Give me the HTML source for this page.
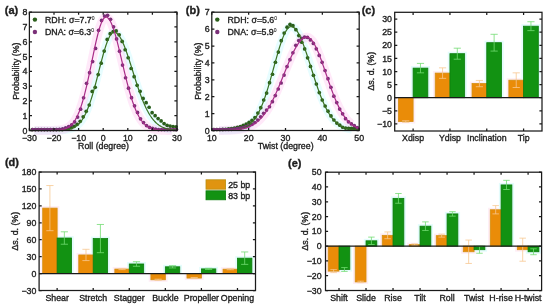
<!DOCTYPE html>
<html><head><meta charset="utf-8"><style>
html,body{margin:0;padding:0;background:#fff;}
svg{display:block;will-change:transform;font-family:"Liberation Sans",sans-serif;fill:#222;}
text{fill:#1e1e1e;stroke:#1e1e1e;stroke-width:0.35px;}
</style></head><body>
<svg width="550" height="308" viewBox="0 0 550 308">
<text x="4.80" y="13.60" text-anchor="start" font-size="11" font-weight="bold" >(a)</text>
<path d="M34.32 130.50 L35.01 130.50 L35.70 130.50 L36.40 130.50 L37.09 130.50 L37.78 130.50 L38.47 130.50 L39.17 130.50 L39.86 130.50 L40.55 130.50 L41.24 130.50 L41.93 130.50 L42.63 130.50 L43.32 130.50 L44.01 130.50 L44.70 130.50 L45.40 130.50 L46.09 130.50 L46.78 130.49 L47.47 130.49 L48.17 130.49 L48.86 130.49 L49.55 130.49 L50.24 130.49 L50.93 130.48 L51.63 130.48 L52.32 130.48 L53.01 130.47 L53.70 130.46 L54.40 130.46 L55.09 130.45 L55.78 130.44 L56.47 130.43 L57.16 130.41 L57.86 130.40 L58.55 130.38 L59.24 130.36 L59.93 130.33 L60.63 130.30 L61.32 130.27 L62.01 130.23 L62.70 130.19 L63.39 130.13 L64.09 130.07 L64.78 130.01 L65.47 129.93 L66.16 129.84 L66.86 129.73 L67.55 129.62 L68.24 129.49 L68.93 129.34 L69.63 129.17 L70.32 128.98 L71.01 128.77 L71.70 128.53 L72.39 128.26 L73.09 127.97 L73.78 127.64 L74.47 127.27 L75.16 126.87 L75.86 126.42 L76.55 125.92 L77.24 125.38 L77.93 124.79 L78.62 124.14 L79.32 123.42 L80.01 122.65 L80.70 121.81 L81.39 120.90 L82.09 119.92 L82.78 118.86 L83.47 117.72 L84.16 116.50 L84.86 115.20 L85.55 113.81 L86.24 112.33 L86.93 110.75 L87.62 109.09 L88.32 107.34 L89.01 105.50 L89.70 103.56 L90.39 101.54 L91.09 99.43 L91.78 97.23 L92.47 94.96 L93.16 92.61 L93.85 90.18 L94.55 87.69 L95.24 85.15 L95.93 82.55 L96.62 79.90 L97.32 77.23 L98.01 74.52 L98.70 71.81 L99.39 69.09 L100.08 66.38 L100.78 63.68 L101.47 61.02 L102.16 58.41 L102.85 55.85 L103.55 53.36 L104.24 50.96 L104.93 48.65 L105.62 46.45 L106.32 44.37 L107.01 42.43 L107.70 40.62 L108.39 38.97 L109.08 37.49 L109.78 36.18 L110.47 35.05 L111.16 34.11 L111.85 33.36 L112.55 32.81 L113.24 32.46 L113.93 32.32 L114.62 32.35 L115.31 32.53 L116.01 32.84 L116.70 33.28 L117.39 33.86 L118.08 34.56 L118.78 35.39 L119.47 36.35 L120.16 37.42 L120.85 38.61 L121.54 39.90 L122.24 41.31 L122.93 42.81 L123.62 44.41 L124.31 46.09 L125.01 47.86 L125.70 49.70 L126.39 51.60 L127.08 53.57 L127.78 55.60 L128.47 57.67 L129.16 59.78 L129.85 61.93 L130.54 64.10 L131.24 66.29 L131.93 68.50 L132.62 70.71 L133.31 72.92 L134.01 75.13 L134.70 77.33 L135.39 79.51 L136.08 81.66 L136.77 83.80 L137.47 85.90 L138.16 87.96 L138.85 89.98 L139.54 91.97 L140.24 93.90 L140.93 95.79 L141.62 97.62 L142.31 99.40 L143.01 101.13 L143.70 102.80 L144.39 104.40 L145.08 105.95 L145.77 107.44 L146.47 108.87 L147.16 110.24 L147.85 111.55 L148.54 112.80 L149.24 113.98 L149.93 115.12 L150.62 116.19 L151.31 117.20 L152.00 118.16 L152.70 119.07 L153.39 119.93 L154.08 120.73 L154.77 121.49 L155.47 122.20 L156.16 122.86 L156.85 123.48 L157.54 124.06 L158.23 124.60 L158.93 125.10 L159.62 125.57 L160.31 126.00 L161.00 126.40 L161.70 126.77 L162.39 127.11 L163.08 127.42 L163.77 127.71 L164.47 127.98 L165.16 128.22 L165.85 128.44 L166.54 128.65 L167.23 128.83 L167.93 129.00 L168.62 129.15 L169.31 129.29 L170.00 129.42 L170.70 129.54 L171.39 129.64 L172.08 129.73" fill="none" stroke="#a0f8ff" stroke-width="8" stroke-opacity="0.25" stroke-linejoin="round"/>
<path d="M34.32 130.50 L35.01 130.50 L35.70 130.50 L36.40 130.50 L37.09 130.50 L37.78 130.50 L38.47 130.50 L39.17 130.50 L39.86 130.50 L40.55 130.50 L41.24 130.50 L41.93 130.50 L42.63 130.50 L43.32 130.49 L44.01 130.49 L44.70 130.49 L45.40 130.49 L46.09 130.49 L46.78 130.48 L47.47 130.48 L48.17 130.47 L48.86 130.47 L49.55 130.46 L50.24 130.45 L50.93 130.44 L51.63 130.43 L52.32 130.42 L53.01 130.40 L53.70 130.38 L54.40 130.35 L55.09 130.33 L55.78 130.29 L56.47 130.25 L57.16 130.21 L57.86 130.16 L58.55 130.09 L59.24 130.02 L59.93 129.94 L60.63 129.84 L61.32 129.73 L62.01 129.60 L62.70 129.45 L63.39 129.29 L64.09 129.09 L64.78 128.88 L65.47 128.63 L66.16 128.35 L66.86 128.03 L67.55 127.68 L68.24 127.28 L68.93 126.84 L69.63 126.34 L70.32 125.79 L71.01 125.17 L71.70 124.49 L72.39 123.74 L73.09 122.92 L73.78 122.01 L74.47 121.02 L75.16 119.94 L75.86 118.76 L76.55 117.49 L77.24 116.10 L77.93 114.62 L78.62 113.02 L79.32 111.30 L80.01 109.47 L80.70 107.51 L81.39 105.44 L82.09 103.24 L82.78 100.93 L83.47 98.49 L84.16 95.93 L84.86 93.27 L85.55 90.49 L86.24 87.60 L86.93 84.62 L87.62 81.55 L88.32 78.41 L89.01 75.19 L89.70 71.91 L90.39 68.59 L91.09 65.24 L91.78 61.87 L92.47 58.50 L93.16 55.14 L93.85 51.82 L94.55 48.55 L95.24 45.35 L95.93 42.23 L96.62 39.22 L97.32 36.34 L98.01 33.60 L98.70 31.02 L99.39 28.61 L100.08 26.39 L100.78 24.39 L101.47 22.60 L102.16 21.05 L102.85 19.74 L103.55 18.69 L104.24 17.89 L104.93 17.36 L105.62 17.11 L106.32 17.11 L107.01 17.33 L107.70 17.76 L108.39 18.40 L109.08 19.23 L109.78 20.27 L110.47 21.49 L111.16 22.90 L111.85 24.49 L112.55 26.25 L113.24 28.16 L113.93 30.23 L114.62 32.44 L115.31 34.77 L116.01 37.22 L116.70 39.78 L117.39 42.43 L118.08 45.16 L118.78 47.96 L119.47 50.81 L120.16 53.70 L120.85 56.63 L121.54 59.58 L122.24 62.53 L122.93 65.49 L123.62 68.42 L124.31 71.34 L125.01 74.22 L125.70 77.06 L126.39 79.85 L127.08 82.58 L127.78 85.25 L128.47 87.85 L129.16 90.38 L129.85 92.82 L130.54 95.18 L131.24 97.46 L131.93 99.64 L132.62 101.73 L133.31 103.74 L134.01 105.64 L134.70 107.46 L135.39 109.18 L136.08 110.81 L136.77 112.34 L137.47 113.79 L138.16 115.16 L138.85 116.43 L139.54 117.63 L140.24 118.74 L140.93 119.78 L141.62 120.74 L142.31 121.64 L143.01 122.46 L143.70 123.23 L144.39 123.93 L145.08 124.58 L145.77 125.17 L146.47 125.71 L147.16 126.20 L147.85 126.65 L148.54 127.06 L149.24 127.44 L149.93 127.77 L150.62 128.08 L151.31 128.35 L152.00 128.60 L152.70 128.82 L153.39 129.02 L154.08 129.20 L154.77 129.35 L155.47 129.49 L156.16 129.62 L156.85 129.73 L157.54 129.83 L158.23 129.92 L158.93 129.99 L159.62 130.06 L160.31 130.12 L161.00 130.17 L161.70 130.22 L162.39 130.26 L163.08 130.29 L163.77 130.32 L164.47 130.35 L165.16 130.37 L165.85 130.39 L166.54 130.40 L167.23 130.42 L167.93 130.43 L168.62 130.44 L169.31 130.45 L170.00 130.46 L170.70 130.46 L171.39 130.47 L172.08 130.48" fill="none" stroke="#ffb0e8" stroke-width="9" stroke-opacity="0.28" stroke-linejoin="round"/>
<circle cx="32.28" cy="129.61" r="1.85" fill="#2a5e1a"/>
<circle cx="35.27" cy="129.61" r="1.85" fill="#2a5e1a"/>
<circle cx="38.27" cy="129.61" r="1.85" fill="#2a5e1a"/>
<circle cx="41.27" cy="129.61" r="1.85" fill="#2a5e1a"/>
<circle cx="44.26" cy="129.61" r="1.85" fill="#2a5e1a"/>
<circle cx="47.26" cy="129.61" r="1.85" fill="#2a5e1a"/>
<circle cx="50.26" cy="129.61" r="1.85" fill="#2a5e1a"/>
<circle cx="53.25" cy="129.61" r="1.85" fill="#2a5e1a"/>
<circle cx="56.25" cy="129.61" r="1.85" fill="#2a5e1a"/>
<circle cx="59.24" cy="129.61" r="1.85" fill="#2a5e1a"/>
<circle cx="62.24" cy="129.58" r="1.85" fill="#2a5e1a"/>
<circle cx="65.24" cy="129.19" r="1.85" fill="#2a5e1a"/>
<circle cx="68.23" cy="128.60" r="1.85" fill="#2a5e1a"/>
<circle cx="71.23" cy="127.70" r="1.85" fill="#2a5e1a"/>
<circle cx="74.23" cy="126.33" r="1.85" fill="#2a5e1a"/>
<circle cx="77.22" cy="124.31" r="1.85" fill="#2a5e1a"/>
<circle cx="80.22" cy="121.33" r="1.85" fill="#2a5e1a"/>
<circle cx="83.21" cy="116.86" r="1.85" fill="#2a5e1a"/>
<circle cx="86.21" cy="111.30" r="1.85" fill="#2a5e1a"/>
<circle cx="89.21" cy="105.00" r="1.85" fill="#2a5e1a"/>
<circle cx="92.20" cy="91.39" r="1.85" fill="#2a5e1a"/>
<circle cx="95.20" cy="87.28" r="1.85" fill="#2a5e1a"/>
<circle cx="98.20" cy="74.61" r="1.85" fill="#2a5e1a"/>
<circle cx="101.19" cy="63.15" r="1.85" fill="#2a5e1a"/>
<circle cx="104.19" cy="51.04" r="1.85" fill="#2a5e1a"/>
<circle cx="107.19" cy="39.41" r="1.85" fill="#2a5e1a"/>
<circle cx="110.18" cy="33.70" r="1.85" fill="#2a5e1a"/>
<circle cx="113.18" cy="31.60" r="1.85" fill="#2a5e1a"/>
<circle cx="116.17" cy="30.91" r="1.85" fill="#2a5e1a"/>
<circle cx="119.17" cy="34.74" r="1.85" fill="#2a5e1a"/>
<circle cx="122.17" cy="41.38" r="1.85" fill="#2a5e1a"/>
<circle cx="125.16" cy="49.73" r="1.85" fill="#2a5e1a"/>
<circle cx="128.16" cy="57.77" r="1.85" fill="#2a5e1a"/>
<circle cx="131.16" cy="68.51" r="1.85" fill="#2a5e1a"/>
<circle cx="134.15" cy="76.64" r="1.85" fill="#2a5e1a"/>
<circle cx="137.15" cy="85.35" r="1.85" fill="#2a5e1a"/>
<circle cx="140.14" cy="91.34" r="1.85" fill="#2a5e1a"/>
<circle cx="143.14" cy="98.42" r="1.85" fill="#2a5e1a"/>
<circle cx="146.14" cy="102.66" r="1.85" fill="#2a5e1a"/>
<circle cx="149.13" cy="107.25" r="1.85" fill="#2a5e1a"/>
<circle cx="152.13" cy="112.69" r="1.85" fill="#2a5e1a"/>
<circle cx="155.13" cy="115.70" r="1.85" fill="#2a5e1a"/>
<circle cx="158.12" cy="118.56" r="1.85" fill="#2a5e1a"/>
<circle cx="161.12" cy="120.89" r="1.85" fill="#2a5e1a"/>
<circle cx="164.11" cy="123.54" r="1.85" fill="#2a5e1a"/>
<circle cx="167.11" cy="125.29" r="1.85" fill="#2a5e1a"/>
<circle cx="170.11" cy="126.05" r="1.85" fill="#2a5e1a"/>
<circle cx="173.10" cy="126.48" r="1.85" fill="#2a5e1a"/>
<circle cx="176.10" cy="126.76" r="1.85" fill="#2a5e1a"/>
<circle cx="32.66" cy="129.61" r="1.85" fill="#7a3078"/>
<circle cx="35.66" cy="129.61" r="1.85" fill="#7a3078"/>
<circle cx="38.65" cy="129.61" r="1.85" fill="#7a3078"/>
<circle cx="41.65" cy="129.61" r="1.85" fill="#7a3078"/>
<circle cx="44.65" cy="129.61" r="1.85" fill="#7a3078"/>
<circle cx="47.64" cy="129.61" r="1.85" fill="#7a3078"/>
<circle cx="50.64" cy="129.61" r="1.85" fill="#7a3078"/>
<circle cx="53.64" cy="129.61" r="1.85" fill="#7a3078"/>
<circle cx="56.63" cy="129.61" r="1.85" fill="#7a3078"/>
<circle cx="59.63" cy="129.26" r="1.85" fill="#7a3078"/>
<circle cx="62.62" cy="128.73" r="1.85" fill="#7a3078"/>
<circle cx="65.62" cy="127.91" r="1.85" fill="#7a3078"/>
<circle cx="68.62" cy="126.66" r="1.85" fill="#7a3078"/>
<circle cx="71.61" cy="124.77" r="1.85" fill="#7a3078"/>
<circle cx="74.61" cy="121.92" r="1.85" fill="#7a3078"/>
<circle cx="77.61" cy="117.05" r="1.85" fill="#7a3078"/>
<circle cx="80.60" cy="109.19" r="1.85" fill="#7a3078"/>
<circle cx="83.60" cy="97.76" r="1.85" fill="#7a3078"/>
<circle cx="86.59" cy="83.32" r="1.85" fill="#7a3078"/>
<circle cx="89.59" cy="72.70" r="1.85" fill="#7a3078"/>
<circle cx="92.59" cy="61.57" r="1.85" fill="#7a3078"/>
<circle cx="95.58" cy="48.41" r="1.85" fill="#7a3078"/>
<circle cx="98.58" cy="30.31" r="1.85" fill="#7a3078"/>
<circle cx="101.58" cy="20.46" r="1.85" fill="#7a3078"/>
<circle cx="104.57" cy="16.01" r="1.85" fill="#7a3078"/>
<circle cx="107.57" cy="15.31" r="1.85" fill="#7a3078"/>
<circle cx="110.57" cy="19.23" r="1.85" fill="#7a3078"/>
<circle cx="113.56" cy="26.86" r="1.85" fill="#7a3078"/>
<circle cx="116.56" cy="38.95" r="1.85" fill="#7a3078"/>
<circle cx="119.55" cy="51.13" r="1.85" fill="#7a3078"/>
<circle cx="122.55" cy="65.08" r="1.85" fill="#7a3078"/>
<circle cx="125.55" cy="77.77" r="1.85" fill="#7a3078"/>
<circle cx="128.54" cy="88.14" r="1.85" fill="#7a3078"/>
<circle cx="131.54" cy="97.72" r="1.85" fill="#7a3078"/>
<circle cx="134.54" cy="105.83" r="1.85" fill="#7a3078"/>
<circle cx="137.53" cy="112.41" r="1.85" fill="#7a3078"/>
<circle cx="140.53" cy="118.79" r="1.85" fill="#7a3078"/>
<circle cx="143.52" cy="122.61" r="1.85" fill="#7a3078"/>
<circle cx="146.52" cy="125.59" r="1.85" fill="#7a3078"/>
<circle cx="149.52" cy="127.34" r="1.85" fill="#7a3078"/>
<circle cx="152.51" cy="128.44" r="1.85" fill="#7a3078"/>
<circle cx="155.51" cy="129.14" r="1.85" fill="#7a3078"/>
<circle cx="158.51" cy="129.58" r="1.85" fill="#7a3078"/>
<circle cx="161.50" cy="129.61" r="1.85" fill="#7a3078"/>
<circle cx="164.50" cy="129.61" r="1.85" fill="#7a3078"/>
<circle cx="167.49" cy="129.61" r="1.85" fill="#7a3078"/>
<circle cx="170.49" cy="129.61" r="1.85" fill="#7a3078"/>
<circle cx="173.49" cy="129.61" r="1.85" fill="#7a3078"/>
<circle cx="176.48" cy="129.61" r="1.85" fill="#7a3078"/>
<path d="M29.40 130.50 L29.89 130.50 L30.39 130.50 L30.88 130.50 L31.37 130.50 L31.87 130.50 L32.36 130.50 L32.86 130.50 L33.35 130.50 L33.84 130.50 L34.34 130.50 L34.83 130.50 L35.32 130.50 L35.82 130.50 L36.31 130.50 L36.80 130.50 L37.30 130.50 L37.79 130.50 L38.29 130.50 L38.78 130.50 L39.27 130.50 L39.77 130.50 L40.26 130.50 L40.75 130.50 L41.25 130.50 L41.74 130.50 L42.23 130.50 L42.73 130.50 L43.22 130.50 L43.72 130.50 L44.21 130.50 L44.70 130.50 L45.20 130.50 L45.69 130.50 L46.18 130.50 L46.68 130.50 L47.17 130.49 L47.66 130.49 L48.16 130.49 L48.65 130.49 L49.15 130.49 L49.64 130.49 L50.13 130.49 L50.63 130.48 L51.12 130.48 L51.61 130.48 L52.11 130.48 L52.60 130.47 L53.09 130.47 L53.59 130.47 L54.08 130.46 L54.58 130.46 L55.07 130.45 L55.56 130.44 L56.06 130.44 L56.55 130.43 L57.04 130.42 L57.54 130.41 L58.03 130.39 L58.53 130.38 L59.02 130.37 L59.51 130.35 L60.01 130.33 L60.50 130.31 L60.99 130.29 L61.49 130.26 L61.98 130.23 L62.47 130.20 L62.97 130.17 L63.46 130.13 L63.96 130.09 L64.45 130.04 L64.94 129.99 L65.44 129.93 L65.93 129.87 L66.42 129.80 L66.92 129.73 L67.41 129.64 L67.90 129.55 L68.40 129.45 L68.89 129.35 L69.39 129.23 L69.88 129.10 L70.37 128.96 L70.87 128.81 L71.36 128.65 L71.85 128.47 L72.35 128.28 L72.84 128.08 L73.33 127.85 L73.83 127.61 L74.32 127.35 L74.82 127.07 L75.31 126.78 L75.80 126.45 L76.30 126.11 L76.79 125.74 L77.28 125.35 L77.78 124.92 L78.27 124.48 L78.76 124.00 L79.26 123.49 L79.75 122.95 L80.25 122.37 L80.74 121.76 L81.23 121.12 L81.73 120.44 L82.22 119.72 L82.71 118.96 L83.21 118.16 L83.70 117.33 L84.19 116.44 L84.69 115.52 L85.18 114.55 L85.68 113.54 L86.17 112.48 L86.66 111.38 L87.16 110.23 L87.65 109.03 L88.14 107.79 L88.64 106.50 L89.13 105.16 L89.62 103.78 L90.12 102.35 L90.61 100.88 L91.11 99.37 L91.60 97.81 L92.09 96.21 L92.59 94.57 L93.08 92.89 L93.57 91.17 L94.07 89.42 L94.56 87.64 L95.05 85.83 L95.55 83.99 L96.04 82.13 L96.54 80.24 L97.03 78.34 L97.52 76.42 L98.02 74.49 L98.51 72.55 L99.00 70.61 L99.50 68.67 L99.99 66.74 L100.48 64.82 L100.98 62.90 L101.47 61.01 L101.97 59.14 L102.46 57.30 L102.95 55.49 L103.45 53.71 L103.94 51.98 L104.43 50.29 L104.93 48.66 L105.42 47.08 L105.92 45.56 L106.41 44.10 L106.90 42.71 L107.40 41.40 L107.89 40.15 L108.38 38.99 L108.88 37.92 L109.37 36.93 L109.86 36.03 L110.36 35.22 L110.85 34.51 L111.35 33.89 L111.84 33.37 L112.33 32.96 L112.83 32.64 L113.32 32.43 L113.81 32.33 L114.31 32.32 L114.80 32.39 L115.29 32.52 L115.79 32.73 L116.28 33.00 L116.78 33.34 L117.27 33.75 L117.76 34.22 L118.26 34.76 L118.75 35.36 L119.24 36.02 L119.74 36.75 L120.23 37.53 L120.72 38.38 L121.22 39.28 L121.71 40.23 L122.21 41.24 L122.70 42.30 L123.19 43.41 L123.69 44.56 L124.18 45.76 L124.67 47.00 L125.17 48.28 L125.66 49.59 L126.15 50.94 L126.65 52.33 L127.14 53.74 L127.64 55.18 L128.13 56.65 L128.62 58.14 L129.12 59.65 L129.61 61.17 L130.10 62.71 L130.60 64.26 L131.09 65.83 L131.58 67.40 L132.08 68.97 L132.57 70.55 L133.07 72.13 L133.56 73.71 L134.05 75.28 L134.55 76.85 L135.04 78.41 L135.53 79.96 L136.03 81.49 L136.52 83.02 L137.01 84.53 L137.51 86.02 L138.00 87.49 L138.50 88.95 L138.99 90.38 L139.48 91.79 L139.98 93.18 L140.47 94.55 L140.96 95.88 L141.46 97.20 L141.95 98.48 L142.44 99.74 L142.94 100.97 L143.43 102.16 L143.93 103.33 L144.42 104.47 L144.91 105.58 L145.41 106.66 L145.90 107.71 L146.39 108.73 L146.89 109.71 L147.38 110.67 L147.87 111.59 L148.37 112.49 L148.86 113.35 L149.36 114.19 L149.85 114.99 L150.34 115.77 L150.84 116.51 L151.33 117.23 L151.82 117.92 L152.32 118.58 L152.81 119.22 L153.31 119.83 L153.80 120.41 L154.29 120.97 L154.79 121.50 L155.28 122.01 L155.77 122.50 L156.27 122.96 L156.76 123.40 L157.25 123.82 L157.75 124.22 L158.24 124.60 L158.74 124.97 L159.23 125.31 L159.72 125.63 L160.22 125.94 L160.71 126.23 L161.20 126.51 L161.70 126.77 L162.19 127.01 L162.68 127.25 L163.18 127.46 L163.67 127.67 L164.17 127.86 L164.66 128.05 L165.15 128.22 L165.65 128.38 L166.14 128.53 L166.63 128.67 L167.13 128.80 L167.62 128.93 L168.11 129.04 L168.61 129.15 L169.10 129.25 L169.60 129.35 L170.09 129.44 L170.58 129.52 L171.08 129.59 L171.57 129.66 L172.06 129.73 L172.56 129.79 L173.05 129.85 L173.54 129.90 L174.04 129.95 L174.53 130.00 L175.03 130.04 L175.52 130.08 L176.01 130.11 L176.51 130.14 L177.00 130.17" fill="none" stroke="#3a7222" stroke-width="1.2"/>
<path d="M29.40 130.50 L29.89 130.50 L30.39 130.50 L30.88 130.50 L31.37 130.50 L31.87 130.50 L32.36 130.50 L32.86 130.50 L33.35 130.50 L33.84 130.50 L34.34 130.50 L34.83 130.50 L35.32 130.50 L35.82 130.50 L36.31 130.50 L36.80 130.50 L37.30 130.50 L37.79 130.50 L38.29 130.50 L38.78 130.50 L39.27 130.50 L39.77 130.50 L40.26 130.50 L40.75 130.50 L41.25 130.50 L41.74 130.50 L42.23 130.50 L42.73 130.49 L43.22 130.49 L43.72 130.49 L44.21 130.49 L44.70 130.49 L45.20 130.49 L45.69 130.49 L46.18 130.49 L46.68 130.48 L47.17 130.48 L47.66 130.48 L48.16 130.47 L48.65 130.47 L49.15 130.47 L49.64 130.46 L50.13 130.45 L50.63 130.45 L51.12 130.44 L51.61 130.43 L52.11 130.42 L52.60 130.41 L53.09 130.40 L53.59 130.38 L54.08 130.37 L54.58 130.35 L55.07 130.33 L55.56 130.30 L56.06 130.28 L56.55 130.25 L57.04 130.22 L57.54 130.18 L58.03 130.14 L58.53 130.10 L59.02 130.05 L59.51 129.99 L60.01 129.93 L60.50 129.86 L60.99 129.78 L61.49 129.70 L61.98 129.61 L62.47 129.50 L62.97 129.39 L63.46 129.27 L63.96 129.13 L64.45 128.98 L64.94 128.82 L65.44 128.64 L65.93 128.45 L66.42 128.24 L66.92 128.01 L67.41 127.75 L67.90 127.48 L68.40 127.18 L68.89 126.86 L69.39 126.52 L69.88 126.14 L70.37 125.74 L70.87 125.30 L71.36 124.84 L71.85 124.33 L72.35 123.80 L72.84 123.22 L73.33 122.60 L73.83 121.94 L74.32 121.24 L74.82 120.49 L75.31 119.70 L75.80 118.85 L76.30 117.96 L76.79 117.01 L77.28 116.01 L77.78 114.96 L78.27 113.85 L78.76 112.68 L79.26 111.45 L79.75 110.16 L80.25 108.81 L80.74 107.40 L81.23 105.93 L81.73 104.40 L82.22 102.80 L82.71 101.15 L83.21 99.43 L83.70 97.65 L84.19 95.81 L84.69 93.92 L85.18 91.97 L85.68 89.96 L86.17 87.90 L86.66 85.79 L87.16 83.64 L87.65 81.44 L88.14 79.20 L88.64 76.92 L89.13 74.61 L89.62 72.27 L90.12 69.91 L90.61 67.53 L91.11 65.14 L91.60 62.73 L92.09 60.33 L92.59 57.93 L93.08 55.54 L93.57 53.16 L94.07 50.81 L94.56 48.48 L95.05 46.19 L95.55 43.94 L96.04 41.74 L96.54 39.60 L97.03 37.52 L97.52 35.50 L98.02 33.56 L98.51 31.71 L99.00 29.94 L99.50 28.26 L99.99 26.68 L100.48 25.21 L100.98 23.84 L101.47 22.59 L101.97 21.46 L102.46 20.46 L102.95 19.57 L103.45 18.82 L103.94 18.20 L104.43 17.72 L104.93 17.37 L105.42 17.15 L105.92 17.08 L106.41 17.13 L106.90 17.29 L107.40 17.55 L107.89 17.92 L108.38 18.39 L108.88 18.96 L109.37 19.64 L109.86 20.41 L110.36 21.28 L110.85 22.25 L111.35 23.31 L111.84 24.45 L112.33 25.69 L112.83 27.00 L113.32 28.40 L113.81 29.87 L114.31 31.42 L114.80 33.03 L115.29 34.70 L115.79 36.44 L116.28 38.23 L116.78 40.07 L117.27 41.95 L117.76 43.88 L118.26 45.85 L118.75 47.85 L119.24 49.88 L119.74 51.93 L120.23 54.00 L120.72 56.09 L121.22 58.19 L121.71 60.29 L122.21 62.40 L122.70 64.50 L123.19 66.60 L123.69 68.70 L124.18 70.78 L124.67 72.84 L125.17 74.89 L125.66 76.91 L126.15 78.91 L126.65 80.87 L127.14 82.81 L127.64 84.72 L128.13 86.59 L128.62 88.43 L129.12 90.22 L129.61 91.98 L130.10 93.69 L130.60 95.36 L131.09 96.99 L131.58 98.57 L132.08 100.10 L132.57 101.59 L133.07 103.03 L133.56 104.42 L134.05 105.77 L134.55 107.07 L135.04 108.32 L135.53 109.52 L136.03 110.68 L136.52 111.79 L137.01 112.86 L137.51 113.88 L138.00 114.85 L138.50 115.79 L138.99 116.68 L139.48 117.52 L139.98 118.33 L140.47 119.10 L140.96 119.83 L141.46 120.52 L141.95 121.18 L142.44 121.80 L142.94 122.39 L143.43 122.94 L143.93 123.46 L144.42 123.96 L144.91 124.42 L145.41 124.86 L145.90 125.27 L146.39 125.65 L146.89 126.02 L147.38 126.35 L147.87 126.67 L148.37 126.96 L148.86 127.24 L149.36 127.50 L149.85 127.74 L150.34 127.96 L150.84 128.17 L151.33 128.36 L151.82 128.54 L152.32 128.70 L152.81 128.85 L153.31 128.99 L153.80 129.13 L154.29 129.25 L154.79 129.36 L155.28 129.46 L155.77 129.55 L156.27 129.64 L156.76 129.72 L157.25 129.79 L157.75 129.86 L158.24 129.92 L158.74 129.97 L159.23 130.02 L159.72 130.07 L160.22 130.11 L160.71 130.15 L161.20 130.18 L161.70 130.22 L162.19 130.24 L162.68 130.27 L163.18 130.29 L163.67 130.32 L164.17 130.33 L164.66 130.35 L165.15 130.37 L165.65 130.38 L166.14 130.39 L166.63 130.41 L167.13 130.42 L167.62 130.43 L168.11 130.43 L168.61 130.44 L169.10 130.45 L169.60 130.45 L170.09 130.46 L170.58 130.46 L171.08 130.47 L171.57 130.47 L172.06 130.48 L172.56 130.48 L173.05 130.48 L173.54 130.48 L174.04 130.49 L174.53 130.49 L175.03 130.49 L175.52 130.49 L176.01 130.49 L176.51 130.49 L177.00 130.49" fill="none" stroke="#a82c88" stroke-width="1.2"/>
<rect x="29.4" y="12.2" width="147.60" height="118.30" fill="none" stroke="#1a1a1a" stroke-width="1.25"/>
<path d="M29.4 130.50h2.6M177.0 130.50h-2.6" stroke="#1a1a1a" stroke-width="1.25"/>
<text x="27.40" y="133.60" text-anchor="end" font-size="8.8" font-weight="normal" >0</text>
<path d="M29.4 115.71h2.6M177.0 115.71h-2.6" stroke="#1a1a1a" stroke-width="1.25"/>
<text x="27.40" y="118.81" text-anchor="end" font-size="8.8" font-weight="normal" >1</text>
<path d="M29.4 100.92h2.6M177.0 100.92h-2.6" stroke="#1a1a1a" stroke-width="1.25"/>
<text x="27.40" y="104.02" text-anchor="end" font-size="8.8" font-weight="normal" >2</text>
<path d="M29.4 86.14h2.6M177.0 86.14h-2.6" stroke="#1a1a1a" stroke-width="1.25"/>
<text x="27.40" y="89.24" text-anchor="end" font-size="8.8" font-weight="normal" >3</text>
<path d="M29.4 71.35h2.6M177.0 71.35h-2.6" stroke="#1a1a1a" stroke-width="1.25"/>
<text x="27.40" y="74.45" text-anchor="end" font-size="8.8" font-weight="normal" >4</text>
<path d="M29.4 56.56h2.6M177.0 56.56h-2.6" stroke="#1a1a1a" stroke-width="1.25"/>
<text x="27.40" y="59.66" text-anchor="end" font-size="8.8" font-weight="normal" >5</text>
<path d="M29.4 41.78h2.6M177.0 41.78h-2.6" stroke="#1a1a1a" stroke-width="1.25"/>
<text x="27.40" y="44.88" text-anchor="end" font-size="8.8" font-weight="normal" >6</text>
<path d="M29.4 26.99h2.6M177.0 26.99h-2.6" stroke="#1a1a1a" stroke-width="1.25"/>
<text x="27.40" y="30.09" text-anchor="end" font-size="8.8" font-weight="normal" >7</text>
<path d="M29.4 12.20h2.6M177.0 12.20h-2.6" stroke="#1a1a1a" stroke-width="1.25"/>
<text x="27.40" y="15.30" text-anchor="end" font-size="8.8" font-weight="normal" >8</text>
<path d="M29.40 130.5v-2.6M29.40 12.2v2.6" stroke="#1a1a1a" stroke-width="1.25"/>
<text x="29.40" y="141.00" text-anchor="middle" font-size="8.8" font-weight="normal" >&#8722;30</text>
<path d="M54.00 130.5v-2.6M54.00 12.2v2.6" stroke="#1a1a1a" stroke-width="1.25"/>
<text x="54.00" y="141.00" text-anchor="middle" font-size="8.8" font-weight="normal" >&#8722;20</text>
<path d="M78.60 130.5v-2.6M78.60 12.2v2.6" stroke="#1a1a1a" stroke-width="1.25"/>
<text x="78.60" y="141.00" text-anchor="middle" font-size="8.8" font-weight="normal" >&#8722;10</text>
<path d="M103.20 130.5v-2.6M103.20 12.2v2.6" stroke="#1a1a1a" stroke-width="1.25"/>
<text x="103.20" y="141.00" text-anchor="middle" font-size="8.8" font-weight="normal" >0</text>
<path d="M127.80 130.5v-2.6M127.80 12.2v2.6" stroke="#1a1a1a" stroke-width="1.25"/>
<text x="127.80" y="141.00" text-anchor="middle" font-size="8.8" font-weight="normal" >10</text>
<path d="M152.40 130.5v-2.6M152.40 12.2v2.6" stroke="#1a1a1a" stroke-width="1.25"/>
<text x="152.40" y="141.00" text-anchor="middle" font-size="8.8" font-weight="normal" >20</text>
<path d="M177.00 130.5v-2.6M177.00 12.2v2.6" stroke="#1a1a1a" stroke-width="1.25"/>
<text x="177.00" y="141.00" text-anchor="middle" font-size="8.8" font-weight="normal" >30</text>
<text x="103.50" y="149.40" text-anchor="middle" font-size="8.8" font-weight="normal" >Roll (degree)</text>
<text x="0.00" y="0.00" text-anchor="middle" font-size="8.8" font-weight="normal" transform="translate(18.8,71.2) rotate(-90)">Probability (%)</text>
<circle cx="34.9" cy="19.6" r="2.2" fill="#2a5e1a"/>
<circle cx="34.9" cy="32.0" r="2.2" fill="#7a3078"/>
<text x="45.00" y="22.90" text-anchor="start" font-size="8.8" font-weight="normal" >RDH: &#963;=7.7<tspan font-size="5" dy="-3.1" style="stroke-width:0.1px">0</tspan></text>
<text x="45.00" y="35.00" text-anchor="start" font-size="8.8" font-weight="normal" >DNA: &#963;=6.3<tspan font-size="5" dy="-3.1" style="stroke-width:0.1px">0</tspan></text>
<text x="185.80" y="13.50" text-anchor="start" font-size="11" font-weight="bold" >(b)</text>
<path d="M219.17 130.48 L219.84 130.48 L220.50 130.47 L221.17 130.47 L221.84 130.47 L222.50 130.46 L223.17 130.45 L223.84 130.44 L224.50 130.44 L225.17 130.43 L225.84 130.41 L226.50 130.40 L227.17 130.39 L227.84 130.37 L228.50 130.35 L229.17 130.33 L229.84 130.30 L230.50 130.27 L231.17 130.24 L231.84 130.20 L232.50 130.16 L233.17 130.11 L233.84 130.06 L234.50 130.00 L235.17 129.93 L235.84 129.86 L236.50 129.78 L237.17 129.69 L237.84 129.58 L238.50 129.47 L239.17 129.34 L239.84 129.20 L240.50 129.04 L241.17 128.87 L241.84 128.68 L242.50 128.47 L243.17 128.24 L243.84 127.99 L244.50 127.72 L245.17 127.41 L245.84 127.08 L246.50 126.73 L247.17 126.34 L247.84 125.91 L248.50 125.45 L249.17 124.96 L249.84 124.42 L250.50 123.84 L251.17 123.22 L251.84 122.55 L252.50 121.83 L253.17 121.06 L253.83 120.23 L254.50 119.36 L255.17 118.42 L255.83 117.43 L256.50 116.37 L257.17 115.25 L257.83 114.07 L258.50 112.82 L259.17 111.51 L259.83 110.13 L260.50 108.68 L261.17 107.16 L261.83 105.57 L262.50 103.92 L263.17 102.19 L263.83 100.40 L264.50 98.54 L265.17 96.62 L265.83 94.64 L266.50 92.60 L267.17 90.50 L267.83 88.34 L268.50 86.14 L269.17 83.89 L269.83 81.60 L270.50 79.27 L271.17 76.91 L271.83 74.52 L272.50 72.11 L273.17 69.70 L273.83 67.27 L274.50 64.85 L275.17 62.43 L275.83 60.03 L276.50 57.65 L277.17 55.30 L277.83 52.99 L278.50 50.73 L279.17 48.53 L279.83 46.39 L280.50 44.32 L281.17 42.33 L281.83 40.43 L282.50 38.62 L283.17 36.92 L283.83 35.32 L284.50 33.85 L285.17 32.49 L285.83 31.26 L286.50 30.17 L287.17 29.21 L287.83 28.40 L288.50 27.73 L289.17 27.21 L289.83 26.84 L290.50 26.63 L291.17 26.57 L291.83 26.64 L292.50 26.82 L293.17 27.12 L293.83 27.54 L294.50 28.07 L295.17 28.71 L295.83 29.46 L296.50 30.32 L297.17 31.28 L297.83 32.35 L298.50 33.51 L299.17 34.76 L299.83 36.10 L300.50 37.53 L301.17 39.04 L301.83 40.63 L302.50 42.29 L303.17 44.01 L303.83 45.80 L304.50 47.64 L305.17 49.54 L305.83 51.48 L306.50 53.46 L307.17 55.47 L307.83 57.51 L308.50 59.58 L309.17 61.66 L309.83 63.76 L310.50 65.87 L311.17 67.98 L311.83 70.09 L312.50 72.20 L313.17 74.29 L313.83 76.37 L314.50 78.43 L315.17 80.47 L315.83 82.49 L316.50 84.47 L317.17 86.42 L317.83 88.34 L318.50 90.22 L319.16 92.05 L319.83 93.85 L320.50 95.60 L321.16 97.30 L321.83 98.96 L322.50 100.57 L323.16 102.12 L323.83 103.63 L324.50 105.08 L325.16 106.49 L325.83 107.84 L326.50 109.14 L327.16 110.38 L327.83 111.58 L328.50 112.72 L329.16 113.82 L329.83 114.86 L330.50 115.86 L331.16 116.81 L331.83 117.71 L332.50 118.56 L333.16 119.37 L333.83 120.14 L334.50 120.86 L335.16 121.55 L335.83 122.19 L336.50 122.80 L337.16 123.37 L337.83 123.90 L338.50 124.41 L339.16 124.88 L339.83 125.32 L340.50 125.73 L341.16 126.11 L341.83 126.47 L342.50 126.80 L343.16 127.11 L343.83 127.40 L344.50 127.66 L345.16 127.91 L345.83 128.13 L346.50 128.34 L347.16 128.54 L347.83 128.71 L348.50 128.88 L349.16 129.03 L349.83 129.17 L350.50 129.29 L351.16 129.41 L351.83 129.51" fill="none" stroke="#a0f8ff" stroke-width="8" stroke-opacity="0.25" stroke-linejoin="round"/>
<path d="M219.17 130.44 L219.84 130.44 L220.50 130.43 L221.17 130.42 L221.84 130.41 L222.50 130.40 L223.17 130.39 L223.84 130.38 L224.50 130.37 L225.17 130.35 L225.84 130.34 L226.50 130.32 L227.17 130.30 L227.84 130.28 L228.50 130.25 L229.17 130.23 L229.84 130.20 L230.50 130.17 L231.17 130.13 L231.84 130.09 L232.50 130.05 L233.17 130.01 L233.84 129.96 L234.50 129.91 L235.17 129.85 L235.84 129.78 L236.50 129.72 L237.17 129.64 L237.84 129.56 L238.50 129.48 L239.17 129.38 L239.84 129.28 L240.50 129.17 L241.17 129.05 L241.84 128.93 L242.50 128.79 L243.17 128.64 L243.84 128.48 L244.50 128.31 L245.17 128.13 L245.84 127.94 L246.50 127.73 L247.17 127.51 L247.84 127.27 L248.50 127.01 L249.17 126.74 L249.84 126.46 L250.50 126.15 L251.17 125.82 L251.84 125.48 L252.50 125.11 L253.17 124.72 L253.83 124.31 L254.50 123.88 L255.17 123.42 L255.83 122.94 L256.50 122.43 L257.17 121.89 L257.83 121.32 L258.50 120.73 L259.17 120.11 L259.83 119.45 L260.50 118.77 L261.17 118.05 L261.83 117.30 L262.50 116.52 L263.17 115.70 L263.83 114.85 L264.50 113.97 L265.17 113.05 L265.83 112.10 L266.50 111.11 L267.17 110.08 L267.83 109.02 L268.50 107.92 L269.17 106.79 L269.83 105.62 L270.50 104.42 L271.17 103.18 L271.83 101.91 L272.50 100.60 L273.17 99.26 L273.83 97.89 L274.50 96.49 L275.17 95.06 L275.83 93.60 L276.50 92.11 L277.17 90.60 L277.83 89.06 L278.50 87.50 L279.17 85.92 L279.83 84.33 L280.50 82.71 L281.17 81.09 L281.83 79.45 L282.50 77.80 L283.17 76.15 L283.83 74.49 L284.50 72.83 L285.17 71.17 L285.83 69.52 L286.50 67.88 L287.17 66.24 L287.83 64.62 L288.50 63.02 L289.17 61.44 L289.83 59.88 L290.50 58.35 L291.17 56.85 L291.83 55.38 L292.50 53.95 L293.17 52.56 L293.83 51.21 L294.50 49.91 L295.17 48.66 L295.83 47.46 L296.50 46.31 L297.17 45.22 L297.83 44.19 L298.50 43.23 L299.17 42.32 L299.83 41.49 L300.50 40.73 L301.17 40.03 L301.83 39.41 L302.50 38.87 L303.17 38.40 L303.83 38.00 L304.50 37.69 L305.17 37.45 L305.83 37.30 L306.50 37.22 L307.17 37.23 L307.83 37.35 L308.50 37.57 L309.17 37.91 L309.83 38.36 L310.50 38.91 L311.17 39.58 L311.83 40.34 L312.50 41.20 L313.17 42.16 L313.83 43.22 L314.50 44.37 L315.17 45.60 L315.83 46.91 L316.50 48.31 L317.17 49.77 L317.83 51.31 L318.50 52.91 L319.16 54.57 L319.83 56.28 L320.50 58.04 L321.16 59.84 L321.83 61.68 L322.50 63.55 L323.16 65.45 L323.83 67.37 L324.50 69.31 L325.16 71.26 L325.83 73.21 L326.50 75.17 L327.16 77.12 L327.83 79.07 L328.50 81.00 L329.16 82.92 L329.83 84.82 L330.50 86.70 L331.16 88.55 L331.83 90.37 L332.50 92.15 L333.16 93.90 L333.83 95.62 L334.50 97.29 L335.16 98.92 L335.83 100.50 L336.50 102.04 L337.16 103.54 L337.83 104.98 L338.50 106.38 L339.16 107.73 L339.83 109.02 L340.50 110.27 L341.16 111.47 L341.83 112.62 L342.50 113.72 L343.16 114.77 L343.83 115.77 L344.50 116.73 L345.16 117.64 L345.83 118.50 L346.50 119.32 L347.16 120.09 L347.83 120.83 L348.50 121.52 L349.16 122.17 L349.83 122.79 L350.50 123.36 L351.16 123.91 L351.83 124.41" fill="none" stroke="#ffb0e8" stroke-width="9" stroke-opacity="0.28" stroke-linejoin="round"/>
<circle cx="213.96" cy="129.49" r="1.85" fill="#2a5e1a"/>
<circle cx="216.89" cy="129.49" r="1.85" fill="#2a5e1a"/>
<circle cx="219.81" cy="129.49" r="1.85" fill="#2a5e1a"/>
<circle cx="222.74" cy="129.47" r="1.85" fill="#2a5e1a"/>
<circle cx="225.66" cy="129.23" r="1.85" fill="#2a5e1a"/>
<circle cx="228.59" cy="128.93" r="1.85" fill="#2a5e1a"/>
<circle cx="231.51" cy="128.54" r="1.85" fill="#2a5e1a"/>
<circle cx="234.44" cy="128.02" r="1.85" fill="#2a5e1a"/>
<circle cx="237.37" cy="127.36" r="1.85" fill="#2a5e1a"/>
<circle cx="240.29" cy="126.51" r="1.85" fill="#2a5e1a"/>
<circle cx="243.22" cy="125.42" r="1.85" fill="#2a5e1a"/>
<circle cx="246.14" cy="124.05" r="1.85" fill="#2a5e1a"/>
<circle cx="249.07" cy="122.33" r="1.85" fill="#2a5e1a"/>
<circle cx="252.00" cy="120.23" r="1.85" fill="#2a5e1a"/>
<circle cx="254.92" cy="117.55" r="1.85" fill="#2a5e1a"/>
<circle cx="257.85" cy="112.99" r="1.85" fill="#2a5e1a"/>
<circle cx="260.77" cy="107.69" r="1.85" fill="#2a5e1a"/>
<circle cx="263.70" cy="100.00" r="1.85" fill="#2a5e1a"/>
<circle cx="266.63" cy="93.08" r="1.85" fill="#2a5e1a"/>
<circle cx="269.55" cy="82.68" r="1.85" fill="#2a5e1a"/>
<circle cx="272.48" cy="74.24" r="1.85" fill="#2a5e1a"/>
<circle cx="275.40" cy="62.24" r="1.85" fill="#2a5e1a"/>
<circle cx="278.33" cy="52.12" r="1.85" fill="#2a5e1a"/>
<circle cx="281.25" cy="40.65" r="1.85" fill="#2a5e1a"/>
<circle cx="284.18" cy="33.09" r="1.85" fill="#2a5e1a"/>
<circle cx="287.11" cy="27.16" r="1.85" fill="#2a5e1a"/>
<circle cx="290.03" cy="24.44" r="1.85" fill="#2a5e1a"/>
<circle cx="292.96" cy="25.68" r="1.85" fill="#2a5e1a"/>
<circle cx="295.88" cy="29.72" r="1.85" fill="#2a5e1a"/>
<circle cx="298.81" cy="35.56" r="1.85" fill="#2a5e1a"/>
<circle cx="301.74" cy="42.24" r="1.85" fill="#2a5e1a"/>
<circle cx="304.66" cy="48.97" r="1.85" fill="#2a5e1a"/>
<circle cx="307.59" cy="57.85" r="1.85" fill="#2a5e1a"/>
<circle cx="310.51" cy="66.45" r="1.85" fill="#2a5e1a"/>
<circle cx="313.44" cy="75.33" r="1.85" fill="#2a5e1a"/>
<circle cx="316.37" cy="84.02" r="1.85" fill="#2a5e1a"/>
<circle cx="319.29" cy="92.61" r="1.85" fill="#2a5e1a"/>
<circle cx="322.22" cy="100.00" r="1.85" fill="#2a5e1a"/>
<circle cx="325.14" cy="105.98" r="1.85" fill="#2a5e1a"/>
<circle cx="328.07" cy="111.15" r="1.85" fill="#2a5e1a"/>
<circle cx="331.00" cy="115.88" r="1.85" fill="#2a5e1a"/>
<circle cx="333.92" cy="120.02" r="1.85" fill="#2a5e1a"/>
<circle cx="336.85" cy="123.09" r="1.85" fill="#2a5e1a"/>
<circle cx="339.77" cy="125.21" r="1.85" fill="#2a5e1a"/>
<circle cx="342.70" cy="127.24" r="1.85" fill="#2a5e1a"/>
<circle cx="345.62" cy="128.06" r="1.85" fill="#2a5e1a"/>
<circle cx="348.55" cy="128.24" r="1.85" fill="#2a5e1a"/>
<circle cx="351.48" cy="128.36" r="1.85" fill="#2a5e1a"/>
<circle cx="354.40" cy="128.43" r="1.85" fill="#2a5e1a"/>
<circle cx="357.33" cy="128.47" r="1.85" fill="#2a5e1a"/>
<circle cx="213.88" cy="129.49" r="1.85" fill="#7a3078"/>
<circle cx="216.80" cy="129.49" r="1.85" fill="#7a3078"/>
<circle cx="219.73" cy="129.49" r="1.85" fill="#7a3078"/>
<circle cx="222.66" cy="129.49" r="1.85" fill="#7a3078"/>
<circle cx="225.58" cy="129.49" r="1.85" fill="#7a3078"/>
<circle cx="228.51" cy="129.49" r="1.85" fill="#7a3078"/>
<circle cx="231.43" cy="129.30" r="1.85" fill="#7a3078"/>
<circle cx="234.36" cy="129.01" r="1.85" fill="#7a3078"/>
<circle cx="237.29" cy="128.63" r="1.85" fill="#7a3078"/>
<circle cx="240.21" cy="128.15" r="1.85" fill="#7a3078"/>
<circle cx="243.14" cy="127.52" r="1.85" fill="#7a3078"/>
<circle cx="246.06" cy="126.71" r="1.85" fill="#7a3078"/>
<circle cx="248.99" cy="125.67" r="1.85" fill="#7a3078"/>
<circle cx="251.91" cy="124.32" r="1.85" fill="#7a3078"/>
<circle cx="254.84" cy="122.50" r="1.85" fill="#7a3078"/>
<circle cx="257.77" cy="120.00" r="1.85" fill="#7a3078"/>
<circle cx="260.69" cy="116.78" r="1.85" fill="#7a3078"/>
<circle cx="263.62" cy="113.24" r="1.85" fill="#7a3078"/>
<circle cx="266.54" cy="110.03" r="1.85" fill="#7a3078"/>
<circle cx="269.47" cy="106.73" r="1.85" fill="#7a3078"/>
<circle cx="272.40" cy="101.66" r="1.85" fill="#7a3078"/>
<circle cx="275.32" cy="95.53" r="1.85" fill="#7a3078"/>
<circle cx="278.25" cy="88.99" r="1.85" fill="#7a3078"/>
<circle cx="281.17" cy="82.98" r="1.85" fill="#7a3078"/>
<circle cx="284.10" cy="75.11" r="1.85" fill="#7a3078"/>
<circle cx="287.03" cy="66.59" r="1.85" fill="#7a3078"/>
<circle cx="289.95" cy="59.70" r="1.85" fill="#7a3078"/>
<circle cx="292.88" cy="52.75" r="1.85" fill="#7a3078"/>
<circle cx="295.80" cy="45.37" r="1.85" fill="#7a3078"/>
<circle cx="298.73" cy="40.52" r="1.85" fill="#7a3078"/>
<circle cx="301.66" cy="38.28" r="1.85" fill="#7a3078"/>
<circle cx="304.58" cy="37.03" r="1.85" fill="#7a3078"/>
<circle cx="307.51" cy="37.39" r="1.85" fill="#7a3078"/>
<circle cx="310.43" cy="39.89" r="1.85" fill="#7a3078"/>
<circle cx="313.36" cy="43.40" r="1.85" fill="#7a3078"/>
<circle cx="316.28" cy="48.85" r="1.85" fill="#7a3078"/>
<circle cx="319.21" cy="55.40" r="1.85" fill="#7a3078"/>
<circle cx="322.14" cy="62.35" r="1.85" fill="#7a3078"/>
<circle cx="325.06" cy="70.48" r="1.85" fill="#7a3078"/>
<circle cx="327.99" cy="78.66" r="1.85" fill="#7a3078"/>
<circle cx="330.91" cy="87.23" r="1.85" fill="#7a3078"/>
<circle cx="333.84" cy="96.22" r="1.85" fill="#7a3078"/>
<circle cx="336.77" cy="102.58" r="1.85" fill="#7a3078"/>
<circle cx="339.69" cy="109.04" r="1.85" fill="#7a3078"/>
<circle cx="342.62" cy="113.87" r="1.85" fill="#7a3078"/>
<circle cx="345.54" cy="118.71" r="1.85" fill="#7a3078"/>
<circle cx="348.47" cy="121.85" r="1.85" fill="#7a3078"/>
<circle cx="351.40" cy="123.89" r="1.85" fill="#7a3078"/>
<circle cx="354.32" cy="125.70" r="1.85" fill="#7a3078"/>
<circle cx="357.25" cy="127.57" r="1.85" fill="#7a3078"/>
<path d="M211.80 130.50 L212.29 130.50 L212.79 130.50 L213.28 130.50 L213.77 130.50 L214.26 130.49 L214.76 130.49 L215.25 130.49 L215.74 130.49 L216.24 130.49 L216.73 130.49 L217.22 130.49 L217.72 130.49 L218.21 130.49 L218.70 130.48 L219.19 130.48 L219.69 130.48 L220.18 130.48 L220.67 130.47 L221.17 130.47 L221.66 130.47 L222.15 130.46 L222.65 130.46 L223.14 130.45 L223.63 130.45 L224.12 130.44 L224.62 130.43 L225.11 130.43 L225.60 130.42 L226.10 130.41 L226.59 130.40 L227.08 130.39 L227.58 130.38 L228.07 130.36 L228.56 130.35 L229.05 130.33 L229.55 130.31 L230.04 130.29 L230.53 130.27 L231.03 130.25 L231.52 130.22 L232.01 130.19 L232.51 130.16 L233.00 130.13 L233.49 130.09 L233.98 130.05 L234.48 130.00 L234.97 129.96 L235.46 129.90 L235.96 129.85 L236.45 129.78 L236.94 129.72 L237.43 129.65 L237.93 129.57 L238.42 129.48 L238.91 129.39 L239.41 129.29 L239.90 129.18 L240.39 129.07 L240.89 128.95 L241.38 128.81 L241.87 128.67 L242.36 128.52 L242.86 128.35 L243.35 128.18 L243.84 127.99 L244.34 127.79 L244.83 127.57 L245.32 127.34 L245.82 127.09 L246.31 126.83 L246.80 126.55 L247.29 126.26 L247.79 125.94 L248.28 125.61 L248.77 125.25 L249.27 124.88 L249.76 124.48 L250.25 124.06 L250.75 123.62 L251.24 123.15 L251.73 122.65 L252.22 122.13 L252.72 121.58 L253.21 121.01 L253.70 120.40 L254.20 119.76 L254.69 119.10 L255.18 118.40 L255.67 117.67 L256.17 116.91 L256.66 116.11 L257.15 115.28 L257.65 114.41 L258.14 113.51 L258.63 112.57 L259.13 111.59 L259.62 110.58 L260.11 109.53 L260.60 108.45 L261.10 107.32 L261.59 106.16 L262.08 104.96 L262.58 103.72 L263.07 102.45 L263.56 101.14 L264.06 99.79 L264.55 98.41 L265.04 96.99 L265.53 95.54 L266.03 94.05 L266.52 92.54 L267.01 90.99 L267.51 89.41 L268.00 87.80 L268.49 86.17 L268.99 84.51 L269.48 82.82 L269.97 81.12 L270.46 79.40 L270.96 77.65 L271.45 75.90 L271.94 74.13 L272.44 72.35 L272.93 70.56 L273.42 68.77 L273.92 66.97 L274.41 65.18 L274.90 63.39 L275.39 61.61 L275.89 59.84 L276.38 58.08 L276.87 56.33 L277.37 54.61 L277.86 52.91 L278.35 51.23 L278.84 49.59 L279.34 47.97 L279.83 46.40 L280.32 44.86 L280.82 43.36 L281.31 41.92 L281.80 40.51 L282.30 39.17 L282.79 37.87 L283.28 36.64 L283.77 35.46 L284.27 34.35 L284.76 33.30 L285.25 32.32 L285.75 31.42 L286.24 30.58 L286.73 29.82 L287.23 29.14 L287.72 28.53 L288.21 28.00 L288.70 27.56 L289.20 27.19 L289.69 26.91 L290.18 26.71 L290.68 26.60 L291.17 26.57 L291.66 26.61 L292.16 26.71 L292.65 26.88 L293.14 27.11 L293.63 27.40 L294.13 27.76 L294.62 28.18 L295.11 28.66 L295.61 29.19 L296.10 29.79 L296.59 30.45 L297.08 31.16 L297.58 31.93 L298.07 32.75 L298.56 33.62 L299.06 34.55 L299.55 35.52 L300.04 36.55 L300.54 37.61 L301.03 38.73 L301.52 39.88 L302.01 41.08 L302.51 42.31 L303.00 43.58 L303.49 44.89 L303.99 46.22 L304.48 47.59 L304.97 48.98 L305.47 50.40 L305.96 51.85 L306.45 53.31 L306.94 54.80 L307.44 56.30 L307.93 57.82 L308.42 59.34 L308.92 60.88 L309.41 62.43 L309.90 63.99 L310.40 65.54 L310.89 67.11 L311.38 68.67 L311.87 70.23 L312.37 71.78 L312.86 73.34 L313.35 74.88 L313.85 76.42 L314.34 77.94 L314.83 79.46 L315.33 80.96 L315.82 82.45 L316.31 83.92 L316.80 85.37 L317.30 86.80 L317.79 88.22 L318.28 89.61 L318.78 90.99 L319.27 92.34 L319.76 93.66 L320.25 94.96 L320.75 96.24 L321.24 97.49 L321.73 98.72 L322.23 99.92 L322.72 101.09 L323.21 102.23 L323.71 103.35 L324.20 104.44 L324.69 105.50 L325.18 106.53 L325.68 107.53 L326.17 108.51 L326.66 109.45 L327.16 110.37 L327.65 111.26 L328.14 112.12 L328.64 112.95 L329.13 113.76 L329.62 114.54 L330.11 115.29 L330.61 116.02 L331.10 116.72 L331.59 117.39 L332.09 118.04 L332.58 118.66 L333.07 119.26 L333.57 119.84 L334.06 120.39 L334.55 120.92 L335.04 121.43 L335.54 121.91 L336.03 122.38 L336.52 122.82 L337.02 123.24 L337.51 123.65 L338.00 124.04 L338.49 124.40 L338.99 124.76 L339.48 125.09 L339.97 125.41 L340.47 125.71 L340.96 126.00 L341.45 126.27 L341.95 126.53 L342.44 126.77 L342.93 127.00 L343.42 127.22 L343.92 127.43 L344.41 127.63 L344.90 127.81 L345.40 127.99 L345.89 128.15 L346.38 128.31 L346.88 128.45 L347.37 128.59 L347.86 128.72 L348.35 128.84 L348.85 128.96 L349.34 129.07 L349.83 129.17 L350.33 129.26 L350.82 129.35 L351.31 129.43 L351.81 129.51 L352.30 129.58 L352.79 129.65 L353.28 129.71 L353.78 129.77 L354.27 129.83 L354.76 129.88 L355.26 129.93 L355.75 129.97 L356.24 130.01 L356.74 130.05 L357.23 130.08 L357.72 130.12 L358.21 130.15 L358.71 130.18 L359.20 130.20" fill="none" stroke="#3a7222" stroke-width="1.2"/>
<path d="M211.80 130.48 L212.29 130.48 L212.79 130.48 L213.28 130.48 L213.77 130.48 L214.26 130.48 L214.76 130.47 L215.25 130.47 L215.74 130.47 L216.24 130.47 L216.73 130.46 L217.22 130.46 L217.72 130.46 L218.21 130.45 L218.70 130.45 L219.19 130.44 L219.69 130.44 L220.18 130.43 L220.67 130.43 L221.17 130.42 L221.66 130.42 L222.15 130.41 L222.65 130.40 L223.14 130.39 L223.63 130.38 L224.12 130.37 L224.62 130.36 L225.11 130.35 L225.60 130.34 L226.10 130.33 L226.59 130.31 L227.08 130.30 L227.58 130.28 L228.07 130.27 L228.56 130.25 L229.05 130.23 L229.55 130.21 L230.04 130.19 L230.53 130.16 L231.03 130.14 L231.52 130.11 L232.01 130.08 L232.51 130.05 L233.00 130.02 L233.49 129.98 L233.98 129.95 L234.48 129.91 L234.97 129.87 L235.46 129.82 L235.96 129.77 L236.45 129.72 L236.94 129.67 L237.43 129.61 L237.93 129.55 L238.42 129.49 L238.91 129.42 L239.41 129.35 L239.90 129.27 L240.39 129.19 L240.89 129.10 L241.38 129.01 L241.87 128.92 L242.36 128.82 L242.86 128.71 L243.35 128.60 L243.84 128.48 L244.34 128.36 L244.83 128.23 L245.32 128.09 L245.82 127.94 L246.31 127.79 L246.80 127.63 L247.29 127.46 L247.79 127.29 L248.28 127.10 L248.77 126.91 L249.27 126.70 L249.76 126.49 L250.25 126.27 L250.75 126.03 L251.24 125.79 L251.73 125.53 L252.22 125.27 L252.72 124.99 L253.21 124.70 L253.70 124.40 L254.20 124.08 L254.69 123.75 L255.18 123.41 L255.67 123.05 L256.17 122.68 L256.66 122.30 L257.15 121.90 L257.65 121.48 L258.14 121.05 L258.63 120.61 L259.13 120.15 L259.62 119.67 L260.11 119.17 L260.60 118.66 L261.10 118.13 L261.59 117.58 L262.08 117.01 L262.58 116.43 L263.07 115.83 L263.56 115.20 L264.06 114.56 L264.55 113.91 L265.04 113.23 L265.53 112.53 L266.03 111.81 L266.52 111.08 L267.01 110.32 L267.51 109.55 L268.00 108.75 L268.49 107.94 L268.99 107.10 L269.48 106.25 L269.97 105.38 L270.46 104.48 L270.96 103.57 L271.45 102.64 L271.94 101.69 L272.44 100.73 L272.93 99.74 L273.42 98.74 L273.92 97.72 L274.41 96.69 L274.90 95.63 L275.39 94.56 L275.89 93.48 L276.38 92.38 L276.87 91.27 L277.37 90.14 L277.86 89.00 L278.35 87.85 L278.84 86.69 L279.34 85.52 L279.83 84.33 L280.32 83.14 L280.82 81.94 L281.31 80.74 L281.80 79.52 L282.30 78.31 L282.79 77.09 L283.28 75.86 L283.77 74.64 L284.27 73.41 L284.76 72.18 L285.25 70.96 L285.75 69.74 L286.24 68.52 L286.73 67.31 L287.23 66.10 L287.72 64.90 L288.21 63.71 L288.70 62.53 L289.20 61.37 L289.69 60.21 L290.18 59.07 L290.68 57.95 L291.17 56.84 L291.66 55.76 L292.16 54.69 L292.65 53.64 L293.14 52.61 L293.63 51.61 L294.13 50.63 L294.62 49.68 L295.11 48.76 L295.61 47.86 L296.10 46.99 L296.59 46.15 L297.08 45.35 L297.58 44.58 L298.07 43.84 L298.56 43.14 L299.06 42.47 L299.55 41.84 L300.04 41.24 L300.54 40.69 L301.03 40.17 L301.52 39.69 L302.01 39.25 L302.51 38.86 L303.00 38.50 L303.49 38.19 L303.99 37.92 L304.48 37.70 L304.97 37.51 L305.47 37.37 L305.96 37.28 L306.45 37.22 L306.94 37.21 L307.44 37.26 L307.93 37.37 L308.42 37.54 L308.92 37.77 L309.41 38.06 L309.90 38.41 L310.40 38.82 L310.89 39.29 L311.38 39.81 L311.87 40.39 L312.37 41.03 L312.86 41.71 L313.35 42.45 L313.85 43.24 L314.34 44.08 L314.83 44.97 L315.33 45.91 L315.82 46.89 L316.31 47.91 L316.80 48.97 L317.30 50.07 L317.79 51.21 L318.28 52.39 L318.78 53.59 L319.27 54.83 L319.76 56.10 L320.25 57.39 L320.75 58.71 L321.24 60.05 L321.73 61.41 L322.23 62.79 L322.72 64.18 L323.21 65.59 L323.71 67.01 L324.20 68.44 L324.69 69.87 L325.18 71.32 L325.68 72.76 L326.17 74.21 L326.66 75.65 L327.16 77.10 L327.65 78.54 L328.14 79.97 L328.64 81.40 L329.13 82.82 L329.62 84.23 L330.11 85.62 L330.61 87.00 L331.10 88.37 L331.59 89.72 L332.09 91.05 L332.58 92.37 L333.07 93.66 L333.57 94.94 L334.06 96.19 L334.55 97.42 L335.04 98.63 L335.54 99.81 L336.03 100.97 L336.52 102.10 L337.02 103.21 L337.51 104.29 L338.00 105.34 L338.49 106.37 L338.99 107.37 L339.48 108.35 L339.97 109.30 L340.47 110.22 L340.96 111.11 L341.45 111.97 L341.95 112.81 L342.44 113.62 L342.93 114.41 L343.42 115.17 L343.92 115.90 L344.41 116.61 L344.90 117.29 L345.40 117.94 L345.89 118.57 L346.38 119.18 L346.88 119.76 L347.37 120.32 L347.86 120.86 L348.35 121.37 L348.85 121.87 L349.34 122.34 L349.83 122.79 L350.33 123.22 L350.82 123.63 L351.31 124.02 L351.81 124.40 L352.30 124.75 L352.79 125.09 L353.28 125.41 L353.78 125.72 L354.27 126.01 L354.76 126.28 L355.26 126.55 L355.75 126.79 L356.24 127.03 L356.74 127.25 L357.23 127.46 L357.72 127.66 L358.21 127.84 L358.71 128.02 L359.20 128.19" fill="none" stroke="#a82c88" stroke-width="1.2"/>
<rect x="211.8" y="12.2" width="147.40" height="118.30" fill="none" stroke="#1a1a1a" stroke-width="1.25"/>
<path d="M211.8 130.50h2.6M359.2 130.50h-2.6" stroke="#1a1a1a" stroke-width="1.25"/>
<text x="209.60" y="133.60" text-anchor="end" font-size="8.8" font-weight="normal" >0</text>
<path d="M211.8 113.60h2.6M359.2 113.60h-2.6" stroke="#1a1a1a" stroke-width="1.25"/>
<text x="209.60" y="116.70" text-anchor="end" font-size="8.8" font-weight="normal" >1</text>
<path d="M211.8 96.70h2.6M359.2 96.70h-2.6" stroke="#1a1a1a" stroke-width="1.25"/>
<text x="209.60" y="99.80" text-anchor="end" font-size="8.8" font-weight="normal" >2</text>
<path d="M211.8 79.80h2.6M359.2 79.80h-2.6" stroke="#1a1a1a" stroke-width="1.25"/>
<text x="209.60" y="82.90" text-anchor="end" font-size="8.8" font-weight="normal" >3</text>
<path d="M211.8 62.90h2.6M359.2 62.90h-2.6" stroke="#1a1a1a" stroke-width="1.25"/>
<text x="209.60" y="66.00" text-anchor="end" font-size="8.8" font-weight="normal" >4</text>
<path d="M211.8 46.00h2.6M359.2 46.00h-2.6" stroke="#1a1a1a" stroke-width="1.25"/>
<text x="209.60" y="49.10" text-anchor="end" font-size="8.8" font-weight="normal" >5</text>
<path d="M211.8 29.10h2.6M359.2 29.10h-2.6" stroke="#1a1a1a" stroke-width="1.25"/>
<text x="209.60" y="32.20" text-anchor="end" font-size="8.8" font-weight="normal" >6</text>
<path d="M211.8 12.20h2.6M359.2 12.20h-2.6" stroke="#1a1a1a" stroke-width="1.25"/>
<text x="209.60" y="15.30" text-anchor="end" font-size="8.8" font-weight="normal" >7</text>
<path d="M211.80 130.5v-2.6M211.80 12.2v2.6" stroke="#1a1a1a" stroke-width="1.25"/>
<text x="211.80" y="141.00" text-anchor="middle" font-size="8.8" font-weight="normal" >10</text>
<path d="M248.65 130.5v-2.6M248.65 12.2v2.6" stroke="#1a1a1a" stroke-width="1.25"/>
<text x="248.65" y="141.00" text-anchor="middle" font-size="8.8" font-weight="normal" >20</text>
<path d="M285.50 130.5v-2.6M285.50 12.2v2.6" stroke="#1a1a1a" stroke-width="1.25"/>
<text x="285.50" y="141.00" text-anchor="middle" font-size="8.8" font-weight="normal" >30</text>
<path d="M322.35 130.5v-2.6M322.35 12.2v2.6" stroke="#1a1a1a" stroke-width="1.25"/>
<text x="322.35" y="141.00" text-anchor="middle" font-size="8.8" font-weight="normal" >40</text>
<path d="M359.20 130.5v-2.6M359.20 12.2v2.6" stroke="#1a1a1a" stroke-width="1.25"/>
<text x="359.20" y="141.00" text-anchor="middle" font-size="8.8" font-weight="normal" >50</text>
<text x="285.70" y="148.50" text-anchor="middle" font-size="8.8" font-weight="normal" >Twist (degree)</text>
<text x="0.00" y="0.00" text-anchor="middle" font-size="8.8" font-weight="normal" transform="translate(200.8,71.2) rotate(-90)">Probability (%)</text>
<circle cx="217.3" cy="19.6" r="2.2" fill="#2a5e1a"/>
<circle cx="217.3" cy="32.0" r="2.2" fill="#7a3078"/>
<text x="227.50" y="22.90" text-anchor="start" font-size="8.8" font-weight="normal" >RDH: &#963;=5.6<tspan font-size="5" dy="-3.1" style="stroke-width:0.1px">0</tspan></text>
<text x="227.50" y="35.00" text-anchor="start" font-size="8.8" font-weight="normal" >DNA: &#963;=5.9<tspan font-size="5" dy="-3.1" style="stroke-width:0.1px">0</tspan></text>
<text x="361.70" y="13.60" text-anchor="start" font-size="11" font-weight="bold" >(c)</text>
<rect x="396.18" y="97.72" width="19.13" height="25.84" fill="#feeef6"/>
<rect x="410.91" y="66.11" width="19.13" height="31.61" fill="#e4fcfc"/>
<rect x="433.01" y="71.09" width="19.13" height="26.63" fill="#feeef6"/>
<rect x="447.74" y="51.70" width="19.13" height="46.02" fill="#e4fcfc"/>
<rect x="469.83" y="81.57" width="19.13" height="16.15" fill="#feeef6"/>
<rect x="484.56" y="40.70" width="19.13" height="57.03" fill="#e4fcfc"/>
<rect x="506.66" y="78.17" width="19.13" height="19.56" fill="#feeef6"/>
<rect x="521.39" y="24.19" width="19.13" height="73.53" fill="#e4fcfc"/>
<rect x="398.38" y="97.72" width="14.73" height="23.84" fill="#ea8c08" stroke="#d39012" stroke-width="0.8"/>
<rect x="413.11" y="68.11" width="14.73" height="29.61" fill="#129212" stroke="#0c7c0c" stroke-width="0.8"/>
<path d="M405.75 120.78V122.35M402.15 120.78h7.20M402.15 122.35h7.20" stroke="#f7c890" stroke-width="0.8" fill="none"/>
<path d="M420.48 63.40V72.83M416.88 63.40h7.20M416.88 72.83h7.20" stroke="#74dc74" stroke-width="0.8" fill="none"/>
<rect x="435.21" y="73.09" width="14.73" height="24.63" fill="#ea8c08" stroke="#d39012" stroke-width="0.8"/>
<rect x="449.94" y="53.70" width="14.73" height="44.02" fill="#129212" stroke="#0c7c0c" stroke-width="0.8"/>
<path d="M442.57 67.85V78.33M438.97 67.85h7.20M438.97 78.33h7.20" stroke="#f7c890" stroke-width="0.8" fill="none"/>
<path d="M457.30 48.20V59.20M453.70 48.20h7.20M453.70 59.20h7.20" stroke="#74dc74" stroke-width="0.8" fill="none"/>
<rect x="472.03" y="83.57" width="14.73" height="14.15" fill="#ea8c08" stroke="#d39012" stroke-width="0.8"/>
<rect x="486.76" y="42.70" width="14.73" height="55.03" fill="#129212" stroke="#0c7c0c" stroke-width="0.8"/>
<path d="M479.40 80.43V86.72M475.80 80.43h7.20M475.80 86.72h7.20" stroke="#f7c890" stroke-width="0.8" fill="none"/>
<path d="M494.13 34.31V51.08M490.53 34.31h7.20M490.53 51.08h7.20" stroke="#74dc74" stroke-width="0.8" fill="none"/>
<rect x="508.86" y="80.17" width="14.73" height="17.56" fill="#ea8c08" stroke="#d39012" stroke-width="0.8"/>
<rect x="523.59" y="26.19" width="14.73" height="71.53" fill="#129212" stroke="#0c7c0c" stroke-width="0.8"/>
<path d="M516.22 72.83V87.50M512.62 72.83h7.20M512.62 87.50h7.20" stroke="#f7c890" stroke-width="0.8" fill="none"/>
<path d="M530.95 21.73V30.64M527.35 21.73h7.20M527.35 30.64h7.20" stroke="#74dc74" stroke-width="0.8" fill="none"/>
<path d="M394.7 97.72H542.0" stroke="#1a1a1a" stroke-width="1.25"/>
<rect x="394.7" y="12.3" width="147.30" height="118.70" fill="none" stroke="#1a1a1a" stroke-width="1.25"/>
<path d="M394.7 123.93h2.6M542.0 123.93h-2.6" stroke="#1a1a1a" stroke-width="1.25"/>
<text x="392.00" y="127.03" text-anchor="end" font-size="8.8" font-weight="normal" >&#8722;10</text>
<path d="M394.7 110.82h2.6M542.0 110.82h-2.6" stroke="#1a1a1a" stroke-width="1.25"/>
<text x="392.00" y="113.92" text-anchor="end" font-size="8.8" font-weight="normal" >&#8722;5</text>
<path d="M394.7 97.72h2.6M542.0 97.72h-2.6" stroke="#1a1a1a" stroke-width="1.25"/>
<text x="392.00" y="100.82" text-anchor="end" font-size="8.8" font-weight="normal" >0</text>
<path d="M394.7 84.62h2.6M542.0 84.62h-2.6" stroke="#1a1a1a" stroke-width="1.25"/>
<text x="392.00" y="87.72" text-anchor="end" font-size="8.8" font-weight="normal" >5</text>
<path d="M394.7 71.52h2.6M542.0 71.52h-2.6" stroke="#1a1a1a" stroke-width="1.25"/>
<text x="392.00" y="74.62" text-anchor="end" font-size="8.8" font-weight="normal" >10</text>
<path d="M394.7 58.42h2.6M542.0 58.42h-2.6" stroke="#1a1a1a" stroke-width="1.25"/>
<text x="392.00" y="61.52" text-anchor="end" font-size="8.8" font-weight="normal" >15</text>
<path d="M394.7 45.32h2.6M542.0 45.32h-2.6" stroke="#1a1a1a" stroke-width="1.25"/>
<text x="392.00" y="48.42" text-anchor="end" font-size="8.8" font-weight="normal" >20</text>
<path d="M394.7 32.21h2.6M542.0 32.21h-2.6" stroke="#1a1a1a" stroke-width="1.25"/>
<text x="392.00" y="35.31" text-anchor="end" font-size="8.8" font-weight="normal" >25</text>
<path d="M394.7 19.11h2.6M542.0 19.11h-2.6" stroke="#1a1a1a" stroke-width="1.25"/>
<text x="392.00" y="22.21" text-anchor="end" font-size="8.8" font-weight="normal" >30</text>
<path d="M413.11 131.0v-2.6M413.11 12.3v2.6" stroke="#1a1a1a" stroke-width="1.25"/>
<text x="413.11" y="140.50" text-anchor="middle" font-size="8.8" font-weight="normal" >Xdisp</text>
<path d="M449.94 131.0v-2.6M449.94 12.3v2.6" stroke="#1a1a1a" stroke-width="1.25"/>
<text x="449.94" y="140.50" text-anchor="middle" font-size="8.8" font-weight="normal" >Ydisp</text>
<path d="M486.76 131.0v-2.6M486.76 12.3v2.6" stroke="#1a1a1a" stroke-width="1.25"/>
<text x="486.76" y="140.50" text-anchor="middle" font-size="8.8" font-weight="normal" >Inclination</text>
<path d="M523.59 131.0v-2.6M523.59 12.3v2.6" stroke="#1a1a1a" stroke-width="1.25"/>
<text x="523.59" y="140.50" text-anchor="middle" font-size="8.8" font-weight="normal" >Tip</text>
<text x="0.00" y="0.00" text-anchor="middle" font-size="8.8" font-weight="normal" transform="translate(373.6,71.2) rotate(-90)">&#916;s. d. (%)</text>
<text x="4.90" y="166.30" text-anchor="start" font-size="11" font-weight="bold" >(d)</text>
<rect x="40.51" y="206.11" width="18.83" height="67.46" fill="#feeef6"/>
<rect x="54.93" y="236.02" width="18.83" height="37.55" fill="#e4fcfc"/>
<rect x="76.57" y="252.95" width="18.83" height="20.62" fill="#feeef6"/>
<rect x="91.00" y="236.59" width="18.83" height="36.99" fill="#e4fcfc"/>
<rect x="112.64" y="267.06" width="18.83" height="6.51" fill="#feeef6"/>
<rect x="127.07" y="261.98" width="18.83" height="11.59" fill="#e4fcfc"/>
<rect x="148.71" y="273.57" width="18.83" height="8.21" fill="#feeef6"/>
<rect x="163.13" y="264.80" width="18.83" height="8.77" fill="#e4fcfc"/>
<rect x="184.77" y="273.57" width="18.83" height="6.51" fill="#feeef6"/>
<rect x="199.20" y="266.89" width="18.83" height="6.68" fill="#e4fcfc"/>
<rect x="220.84" y="267.17" width="18.83" height="6.40" fill="#feeef6"/>
<rect x="235.27" y="256.17" width="18.83" height="17.40" fill="#e4fcfc"/>
<rect x="42.71" y="208.11" width="14.43" height="65.46" fill="#ea8c08" stroke="#d39012" stroke-width="0.8"/>
<rect x="57.13" y="238.02" width="14.43" height="35.55" fill="#129212" stroke="#0c7c0c" stroke-width="0.8"/>
<path d="M49.92 185.54V230.69M46.32 185.54h7.20M46.32 230.69h7.20" stroke="#f7c890" stroke-width="0.8" fill="none"/>
<path d="M64.35 231.81V244.23M60.75 231.81h7.20M60.75 244.23h7.20" stroke="#74dc74" stroke-width="0.8" fill="none"/>
<rect x="78.77" y="254.95" width="14.43" height="18.62" fill="#ea8c08" stroke="#d39012" stroke-width="0.8"/>
<rect x="93.20" y="238.59" width="14.43" height="34.99" fill="#129212" stroke="#0c7c0c" stroke-width="0.8"/>
<path d="M85.99 249.31V260.59M82.39 249.31h7.20M82.39 260.59h7.20" stroke="#f7c890" stroke-width="0.8" fill="none"/>
<path d="M100.41 224.48V252.69M96.81 224.48h7.20M96.81 252.69h7.20" stroke="#74dc74" stroke-width="0.8" fill="none"/>
<rect x="114.84" y="269.06" width="14.43" height="4.51" fill="#ea8c08" stroke="#d39012" stroke-width="0.8"/>
<rect x="129.27" y="263.98" width="14.43" height="9.59" fill="#129212" stroke="#0c7c0c" stroke-width="0.8"/>
<path d="M122.05 268.49V269.62M118.45 268.49h7.20M118.45 269.62h7.20" stroke="#f7c890" stroke-width="0.8" fill="none"/>
<path d="M136.48 261.72V266.24M132.88 261.72h7.20M132.88 266.24h7.20" stroke="#74dc74" stroke-width="0.8" fill="none"/>
<rect x="150.91" y="273.57" width="14.43" height="6.21" fill="#ea8c08" stroke="#d39012" stroke-width="0.8"/>
<rect x="165.33" y="266.80" width="14.43" height="6.77" fill="#129212" stroke="#0c7c0c" stroke-width="0.8"/>
<path d="M158.12 279.21V280.34M154.52 279.21h7.20M154.52 280.34h7.20" stroke="#f7c890" stroke-width="0.8" fill="none"/>
<path d="M172.55 265.67V267.93M168.95 265.67h7.20M168.95 267.93h7.20" stroke="#74dc74" stroke-width="0.8" fill="none"/>
<rect x="186.97" y="273.57" width="14.43" height="4.51" fill="#ea8c08" stroke="#d39012" stroke-width="0.8"/>
<rect x="201.40" y="268.89" width="14.43" height="4.68" fill="#129212" stroke="#0c7c0c" stroke-width="0.8"/>
<path d="M194.19 277.52V278.65M190.59 277.52h7.20M190.59 278.65h7.20" stroke="#f7c890" stroke-width="0.8" fill="none"/>
<path d="M208.61 268.32V269.45M205.01 268.32h7.20M205.01 269.45h7.20" stroke="#74dc74" stroke-width="0.8" fill="none"/>
<rect x="223.04" y="269.17" width="14.43" height="4.40" fill="#ea8c08" stroke="#d39012" stroke-width="0.8"/>
<rect x="237.47" y="258.17" width="14.43" height="15.40" fill="#129212" stroke="#0c7c0c" stroke-width="0.8"/>
<path d="M230.25 268.61V269.73M226.65 268.61h7.20M226.65 269.73h7.20" stroke="#f7c890" stroke-width="0.8" fill="none"/>
<path d="M244.68 251.96V264.37M241.08 251.96h7.20M241.08 264.37h7.20" stroke="#74dc74" stroke-width="0.8" fill="none"/>
<path d="M39.1 273.57H255.5" stroke="#1a1a1a" stroke-width="1.25"/>
<rect x="39.1" y="172.0" width="216.40" height="118.50" fill="none" stroke="#1a1a1a" stroke-width="1.25"/>
<path d="M39.1 290.50h2.6M255.5 290.50h-2.6" stroke="#1a1a1a" stroke-width="1.25"/>
<text x="36.40" y="293.60" text-anchor="end" font-size="8.8" font-weight="normal" >&#8722;30</text>
<path d="M39.1 273.57h2.6M255.5 273.57h-2.6" stroke="#1a1a1a" stroke-width="1.25"/>
<text x="36.40" y="276.67" text-anchor="end" font-size="8.8" font-weight="normal" >0</text>
<path d="M39.1 256.64h2.6M255.5 256.64h-2.6" stroke="#1a1a1a" stroke-width="1.25"/>
<text x="36.40" y="259.74" text-anchor="end" font-size="8.8" font-weight="normal" >30</text>
<path d="M39.1 239.71h2.6M255.5 239.71h-2.6" stroke="#1a1a1a" stroke-width="1.25"/>
<text x="36.40" y="242.81" text-anchor="end" font-size="8.8" font-weight="normal" >60</text>
<path d="M39.1 222.79h2.6M255.5 222.79h-2.6" stroke="#1a1a1a" stroke-width="1.25"/>
<text x="36.40" y="225.89" text-anchor="end" font-size="8.8" font-weight="normal" >90</text>
<path d="M39.1 205.86h2.6M255.5 205.86h-2.6" stroke="#1a1a1a" stroke-width="1.25"/>
<text x="36.40" y="208.96" text-anchor="end" font-size="8.8" font-weight="normal" >120</text>
<path d="M39.1 188.93h2.6M255.5 188.93h-2.6" stroke="#1a1a1a" stroke-width="1.25"/>
<text x="36.40" y="192.03" text-anchor="end" font-size="8.8" font-weight="normal" >150</text>
<path d="M39.1 172.00h2.6M255.5 172.00h-2.6" stroke="#1a1a1a" stroke-width="1.25"/>
<text x="36.40" y="175.10" text-anchor="end" font-size="8.8" font-weight="normal" >180</text>
<path d="M57.13 290.5v-2.6M57.13 172.0v2.6" stroke="#1a1a1a" stroke-width="1.25"/>
<text x="57.13" y="301.30" text-anchor="middle" font-size="8.8" font-weight="normal" >Shear</text>
<path d="M93.20 290.5v-2.6M93.20 172.0v2.6" stroke="#1a1a1a" stroke-width="1.25"/>
<text x="93.20" y="301.30" text-anchor="middle" font-size="8.8" font-weight="normal" >Stretch</text>
<path d="M129.27 290.5v-2.6M129.27 172.0v2.6" stroke="#1a1a1a" stroke-width="1.25"/>
<text x="129.27" y="301.30" text-anchor="middle" font-size="8.8" font-weight="normal" >Stagger</text>
<path d="M165.33 290.5v-2.6M165.33 172.0v2.6" stroke="#1a1a1a" stroke-width="1.25"/>
<text x="165.33" y="301.30" text-anchor="middle" font-size="8.8" font-weight="normal" >Buckle</text>
<path d="M201.40 290.5v-2.6M201.40 172.0v2.6" stroke="#1a1a1a" stroke-width="1.25"/>
<text x="201.40" y="301.30" text-anchor="middle" font-size="8.8" font-weight="normal" >Propeller</text>
<path d="M237.47 290.5v-2.6M237.47 172.0v2.6" stroke="#1a1a1a" stroke-width="1.25"/>
<text x="237.47" y="301.30" text-anchor="middle" font-size="8.8" font-weight="normal" >Opening</text>
<text x="0.00" y="0.00" text-anchor="middle" font-size="8.8" font-weight="normal" transform="translate(17.6,231.2) rotate(-90)">&#916;s. d. (%)</text>
<rect x="206" y="179.8" width="19.6" height="9.4" fill="#e09410" stroke="#b89010" stroke-width="0.8"/>
<rect x="206" y="190.8" width="19.6" height="9.0" fill="#129212" stroke="#0c7c0c" stroke-width="0.8"/>
<text x="228.20" y="187.60" text-anchor="start" font-size="8.8" font-weight="normal" >25 bp</text>
<text x="228.20" y="198.60" text-anchor="start" font-size="8.8" font-weight="normal" >83 bp</text>
<text x="288.00" y="166.80" text-anchor="start" font-size="11" font-weight="bold" >(e)</text>
<rect x="326.00" y="246.14" width="15.21" height="26.99" fill="#feeef6"/>
<rect x="336.81" y="246.14" width="15.21" height="25.36" fill="#e4fcfc"/>
<rect x="353.01" y="246.14" width="15.21" height="37.79" fill="#feeef6"/>
<rect x="363.82" y="238.81" width="15.21" height="7.32" fill="#e4fcfc"/>
<rect x="380.03" y="233.34" width="15.21" height="12.79" fill="#feeef6"/>
<rect x="390.83" y="196.37" width="15.21" height="49.76" fill="#e4fcfc"/>
<rect x="407.04" y="242.66" width="15.21" height="3.48" fill="#feeef6"/>
<rect x="417.84" y="224.17" width="15.21" height="21.96" fill="#e4fcfc"/>
<rect x="434.05" y="233.64" width="15.21" height="12.50" fill="#feeef6"/>
<rect x="444.86" y="211.90" width="15.21" height="34.24" fill="#e4fcfc"/>
<rect x="461.06" y="246.14" width="15.21" height="7.62" fill="#feeef6"/>
<rect x="471.87" y="246.14" width="15.21" height="5.55" fill="#e4fcfc"/>
<rect x="488.08" y="207.76" width="15.21" height="38.38" fill="#feeef6"/>
<rect x="498.88" y="182.92" width="15.21" height="63.22" fill="#e4fcfc"/>
<rect x="515.09" y="246.14" width="15.21" height="5.55" fill="#feeef6"/>
<rect x="525.89" y="246.14" width="15.21" height="7.62" fill="#e4fcfc"/>
<rect x="328.20" y="246.14" width="10.81" height="24.99" fill="#ea8c08" stroke="#d39012" stroke-width="0.8"/>
<rect x="339.01" y="246.14" width="10.81" height="23.36" fill="#129212" stroke="#0c7c0c" stroke-width="0.8"/>
<path d="M333.60 269.65V272.61M330.36 269.65h6.48M330.36 272.61h6.48" stroke="#f7c890" stroke-width="0.8" fill="none"/>
<path d="M344.41 267.58V271.42M341.17 267.58h6.48M341.17 271.42h6.48" stroke="#74dc74" stroke-width="0.8" fill="none"/>
<rect x="355.21" y="246.14" width="10.81" height="35.79" fill="#ea8c08" stroke="#d39012" stroke-width="0.8"/>
<rect x="366.02" y="240.81" width="10.81" height="5.32" fill="#129212" stroke="#0c7c0c" stroke-width="0.8"/>
<path d="M360.62 281.18V282.66M357.37 281.18h6.48M357.37 282.66h6.48" stroke="#f7c890" stroke-width="0.8" fill="none"/>
<path d="M371.42 237.12V244.51M368.18 237.12h6.48M368.18 244.51h6.48" stroke="#74dc74" stroke-width="0.8" fill="none"/>
<rect x="382.23" y="235.34" width="10.81" height="10.79" fill="#ea8c08" stroke="#d39012" stroke-width="0.8"/>
<rect x="393.03" y="198.37" width="10.81" height="47.76" fill="#129212" stroke="#0c7c0c" stroke-width="0.8"/>
<path d="M387.63 231.94V238.74M384.39 231.94h6.48M384.39 238.74h6.48" stroke="#f7c890" stroke-width="0.8" fill="none"/>
<path d="M398.43 193.49V203.25M395.19 193.49h6.48M395.19 203.25h6.48" stroke="#74dc74" stroke-width="0.8" fill="none"/>
<rect x="409.24" y="244.66" width="10.81" height="1.48" fill="#ea8c08" stroke="#d39012" stroke-width="0.8"/>
<rect x="420.04" y="226.17" width="10.81" height="19.96" fill="#129212" stroke="#0c7c0c" stroke-width="0.8"/>
<path d="M414.64 243.92V245.40M411.40 243.92h6.48M411.40 245.40h6.48" stroke="#f7c890" stroke-width="0.8" fill="none"/>
<path d="M425.45 221.89V230.46M422.20 221.89h6.48M422.20 230.46h6.48" stroke="#74dc74" stroke-width="0.8" fill="none"/>
<rect x="436.25" y="235.64" width="10.81" height="10.50" fill="#ea8c08" stroke="#d39012" stroke-width="0.8"/>
<rect x="447.06" y="213.90" width="10.81" height="32.24" fill="#129212" stroke="#0c7c0c" stroke-width="0.8"/>
<path d="M441.65 234.16V237.12M438.41 234.16h6.48M438.41 237.12h6.48" stroke="#f7c890" stroke-width="0.8" fill="none"/>
<path d="M452.46 211.68V216.12M449.22 211.68h6.48M449.22 216.12h6.48" stroke="#74dc74" stroke-width="0.8" fill="none"/>
<rect x="463.26" y="246.14" width="10.81" height="5.62" fill="#ea8c08" stroke="#d39012" stroke-width="0.8"/>
<rect x="474.07" y="246.14" width="10.81" height="3.55" fill="#129212" stroke="#0c7c0c" stroke-width="0.8"/>
<path d="M468.67 240.07V263.44M465.42 240.07h6.48M465.42 263.44h6.48" stroke="#f7c890" stroke-width="0.8" fill="none"/>
<path d="M479.47 246.14V253.24M476.23 246.14h6.48M476.23 253.24h6.48" stroke="#74dc74" stroke-width="0.8" fill="none"/>
<rect x="490.28" y="209.76" width="10.81" height="36.38" fill="#ea8c08" stroke="#d39012" stroke-width="0.8"/>
<rect x="501.08" y="184.92" width="10.81" height="61.22" fill="#129212" stroke="#0c7c0c" stroke-width="0.8"/>
<path d="M495.68 205.62V213.90M492.44 205.62h6.48M492.44 213.90h6.48" stroke="#f7c890" stroke-width="0.8" fill="none"/>
<path d="M506.48 180.33V189.50M503.24 180.33h6.48M503.24 189.50h6.48" stroke="#74dc74" stroke-width="0.8" fill="none"/>
<rect x="517.29" y="246.14" width="10.81" height="3.55" fill="#ea8c08" stroke="#d39012" stroke-width="0.8"/>
<rect x="528.09" y="246.14" width="10.81" height="5.62" fill="#129212" stroke="#0c7c0c" stroke-width="0.8"/>
<path d="M522.69 238.15V261.22M519.45 238.15h6.48M519.45 261.22h6.48" stroke="#f7c890" stroke-width="0.8" fill="none"/>
<path d="M533.50 248.80V254.71M530.25 248.80h6.48M530.25 254.71h6.48" stroke="#74dc74" stroke-width="0.8" fill="none"/>
<path d="M325.5 246.14H541.6" stroke="#1a1a1a" stroke-width="1.25"/>
<rect x="325.5" y="172.2" width="216.10" height="118.30" fill="none" stroke="#1a1a1a" stroke-width="1.25"/>
<path d="M325.5 290.50h2.6M541.6 290.50h-2.6" stroke="#1a1a1a" stroke-width="1.25"/>
<text x="321.60" y="293.60" text-anchor="end" font-size="8.8" font-weight="normal" >&#8722;30</text>
<path d="M325.5 275.71h2.6M541.6 275.71h-2.6" stroke="#1a1a1a" stroke-width="1.25"/>
<text x="321.60" y="278.81" text-anchor="end" font-size="8.8" font-weight="normal" >&#8722;20</text>
<path d="M325.5 260.93h2.6M541.6 260.93h-2.6" stroke="#1a1a1a" stroke-width="1.25"/>
<text x="321.60" y="264.03" text-anchor="end" font-size="8.8" font-weight="normal" >&#8722;10</text>
<path d="M325.5 246.14h2.6M541.6 246.14h-2.6" stroke="#1a1a1a" stroke-width="1.25"/>
<text x="321.60" y="249.24" text-anchor="end" font-size="8.8" font-weight="normal" >0</text>
<path d="M325.5 231.35h2.6M541.6 231.35h-2.6" stroke="#1a1a1a" stroke-width="1.25"/>
<text x="321.60" y="234.45" text-anchor="end" font-size="8.8" font-weight="normal" >10</text>
<path d="M325.5 216.56h2.6M541.6 216.56h-2.6" stroke="#1a1a1a" stroke-width="1.25"/>
<text x="321.60" y="219.66" text-anchor="end" font-size="8.8" font-weight="normal" >20</text>
<path d="M325.5 201.77h2.6M541.6 201.77h-2.6" stroke="#1a1a1a" stroke-width="1.25"/>
<text x="321.60" y="204.87" text-anchor="end" font-size="8.8" font-weight="normal" >30</text>
<path d="M325.5 186.99h2.6M541.6 186.99h-2.6" stroke="#1a1a1a" stroke-width="1.25"/>
<text x="321.60" y="190.09" text-anchor="end" font-size="8.8" font-weight="normal" >40</text>
<path d="M325.5 172.20h2.6M541.6 172.20h-2.6" stroke="#1a1a1a" stroke-width="1.25"/>
<text x="321.60" y="175.30" text-anchor="end" font-size="8.8" font-weight="normal" >50</text>
<path d="M339.01 290.5v-2.6M339.01 172.2v2.6" stroke="#1a1a1a" stroke-width="1.25"/>
<text x="339.01" y="301.30" text-anchor="middle" font-size="8.8" font-weight="normal" >Shift</text>
<path d="M366.02 290.5v-2.6M366.02 172.2v2.6" stroke="#1a1a1a" stroke-width="1.25"/>
<text x="366.02" y="301.30" text-anchor="middle" font-size="8.8" font-weight="normal" >Slide</text>
<path d="M393.03 290.5v-2.6M393.03 172.2v2.6" stroke="#1a1a1a" stroke-width="1.25"/>
<text x="393.03" y="301.30" text-anchor="middle" font-size="8.8" font-weight="normal" >Rise</text>
<path d="M420.04 290.5v-2.6M420.04 172.2v2.6" stroke="#1a1a1a" stroke-width="1.25"/>
<text x="420.04" y="301.30" text-anchor="middle" font-size="8.8" font-weight="normal" >Tilt</text>
<path d="M447.06 290.5v-2.6M447.06 172.2v2.6" stroke="#1a1a1a" stroke-width="1.25"/>
<text x="447.06" y="301.30" text-anchor="middle" font-size="8.8" font-weight="normal" >Roll</text>
<path d="M474.07 290.5v-2.6M474.07 172.2v2.6" stroke="#1a1a1a" stroke-width="1.25"/>
<text x="474.07" y="301.30" text-anchor="middle" font-size="8.8" font-weight="normal" >Twist</text>
<path d="M501.08 290.5v-2.6M501.08 172.2v2.6" stroke="#1a1a1a" stroke-width="1.25"/>
<text x="501.08" y="301.30" text-anchor="middle" font-size="8.8" font-weight="normal" >H-rise</text>
<path d="M528.09 290.5v-2.6M528.09 172.2v2.6" stroke="#1a1a1a" stroke-width="1.25"/>
<text x="528.09" y="301.30" text-anchor="middle" font-size="8.8" font-weight="normal" >H-twist</text>
<text x="0.00" y="0.00" text-anchor="middle" font-size="8.8" font-weight="normal" transform="translate(307.6,231.2) rotate(-90)">&#916;s. d. (%)</text>
</svg>
</body></html>
